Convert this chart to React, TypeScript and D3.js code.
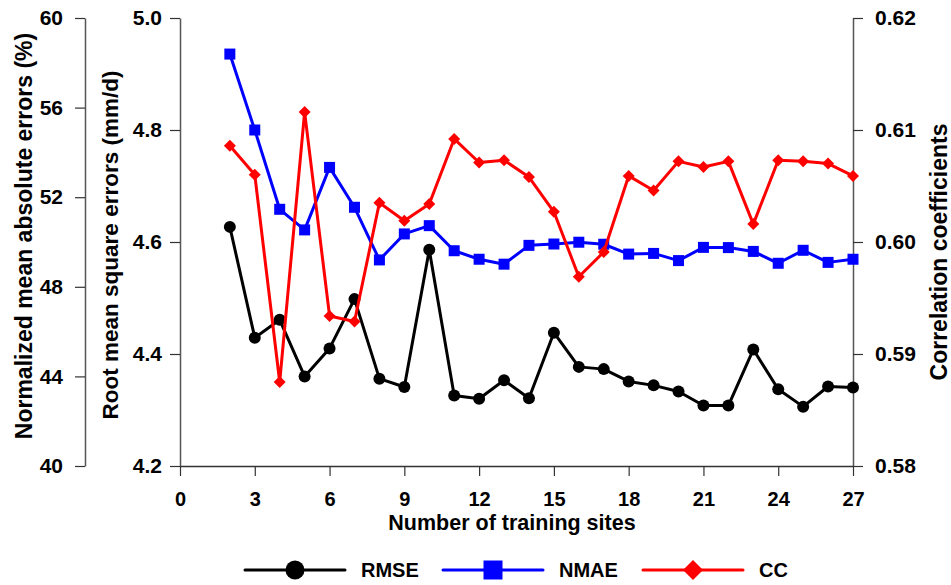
import { useEffect, useRef } from 'react';
import * as d3 from 'd3';

// training sites
const sites = [2, 3, 4, 5, 6, 7, 8, 9, 10, 11, 12, 13, 14, 15, 16, 17, 18, 19, 20, 21, 22, 23, 24, 25, 26, 27];

// RMSE (mm/d)
const rmse = [4.627, 4.429, 4.461, 4.360, 4.410, 4.498, 4.356, 4.341, 4.586, 4.326, 4.320, 4.353, 4.321, 4.438, 4.377, 4.373, 4.351, 4.344, 4.333, 4.308, 4.308, 4.408, 4.337, 4.306, 4.342, 4.340];

// NMAE (%)
const nmae = [58.39, 55.0, 51.46, 50.54, 53.33, 51.55, 49.20, 50.36, 50.73, 49.61, 49.23, 49.01, 49.85, 49.91, 49.99, 49.90, 49.46, 49.49, 49.17, 49.76, 49.75, 49.58, 49.05, 49.63, 49.09, 49.23];

// CC
const cc = [0.6086, 0.6060, 0.5875, 0.6116, 0.5934, 0.5929, 0.6035, 0.6019, 0.6034, 0.6092, 0.6071, 0.6073, 0.6058, 0.6027, 0.5969, 0.5991, 0.6059, 0.6046, 0.6072, 0.6067, 0.6072, 0.6016, 0.6073, 0.6072, 0.6070, 0.6059];

const xTicks = [0, 3, 6, 9, 12, 15, 18, 21, 24, 27];
const nmaeTicks = [40, 44, 48, 52, 56, 60];
const rmseTicks = [4.2, 4.4, 4.6, 4.8, 5.0];
const ccTicks = [0.58, 0.59, 0.60, 0.61, 0.62];

const legendItems = [
  { name: 'RMSE', color: '#000000', marker: 'circle' },
  { name: 'NMAE', color: '#0000ff', marker: 'square' },
  { name: 'CC', color: '#ff0000', marker: 'diamond' },
];

const FONT = '"Liberation Sans", Arial, sans-serif';
const AXIS = '#555';

export default function App() {
  const svgRef = useRef<SVGSVGElement>(null);

  useEffect(() => {
    const width = 951;
    const height = 585;
    const left = 180, right = 853, top = 18, bottom = 466;

    const svg = d3.select(svgRef.current);
    svg.selectAll('*').remove();
    svg.attr('width', width).attr('height', height);

    const x = d3.scaleLinear().domain([0, 27]).range([left, right]);
    const yR = d3.scaleLinear().domain([4.2, 5.0]).range([bottom, top]);
    const yN = d3.scaleLinear().domain([40, 60]).range([bottom, top]);
    const yC = d3.scaleLinear().domain([0.58, 0.62]).range([bottom, top]);

    const styleAxis = (g: any, size: number) => {
      g.select('.domain').attr('stroke', AXIS).attr('stroke-width', 1.5);
      g.selectAll('.tick line').attr('stroke', '#333').attr('stroke-width', 1.2);
      g.selectAll('.tick text')
        .attr('fill', '#000')
        .attr('font-size', size)
        .attr('font-weight', 'bold')
        .attr('font-family', FONT);
    };

    // NMAE axis (outer left)
    const gN = svg.append('g').attr('transform', 'translate(85,0)')
      .call(d3.axisLeft(yN).tickValues(nmaeTicks).tickSize(10).tickSizeOuter(0).tickPadding(12).tickFormat(d3.format('d')));
    styleAxis(gN, 21);

    // RMSE axis (inner left)
    const gR = svg.append('g').attr('transform', `translate(${left},0)`)
      .call(d3.axisLeft(yR).tickValues(rmseTicks).tickSize(10).tickSizeOuter(0).tickPadding(8).tickFormat(d3.format('.1f')));
    styleAxis(gR, 21);

    // CC axis (right)
    const gC = svg.append('g').attr('transform', `translate(${right},0)`)
      .call(d3.axisRight(yC).tickValues(ccTicks).tickSize(10).tickSizeOuter(0).tickPadding(12).tickFormat(d3.format('.2f')));
    styleAxis(gC, 21);

    // x axis
    const gX = svg.append('g').attr('transform', `translate(0,${bottom})`)
      .call(d3.axisBottom(x).tickValues(xTicks).tickSize(10).tickSizeOuter(0).tickPadding(16));
    styleAxis(gX, 20);
    gX.select('.domain').attr('stroke', '#333');

    // axis titles
    svg.append('text')
      .attr('transform', 'translate(32,236) rotate(-90)')
      .attr('text-anchor', 'middle')
      .attr('font-family', FONT).attr('font-weight', 'bold').attr('font-size', 23)
      .text('Normalized mean absolute errors (%)');
    svg.append('text')
      .attr('transform', 'translate(118,245) rotate(-90)')
      .attr('text-anchor', 'middle')
      .attr('font-family', FONT).attr('font-weight', 'bold').attr('font-size', 22.5)
      .text('Root mean square errors (mm/d)');
    svg.append('text')
      .attr('transform', 'translate(947,252) rotate(-90)')
      .attr('text-anchor', 'middle')
      .attr('font-family', FONT).attr('font-weight', 'bold').attr('font-size', 23)
      .text('Correlation coefficients');
    svg.append('text')
      .attr('x', 512).attr('y', 530)
      .attr('text-anchor', 'middle')
      .attr('font-family', FONT).attr('font-weight', 'bold').attr('font-size', 21.5)
      .text('Number of training sites');

    const drawMarker = (g: any, kind: string, color: string, s: number) => {
      if (kind === 'circle') {
        g.append('circle').attr('r', s).attr('fill', color);
      } else if (kind === 'square') {
        g.append('rect').attr('x', -s).attr('y', -s).attr('width', 2 * s).attr('height', 2 * s).attr('fill', color);
      } else {
        g.append('path').attr('d', `M0,${-s}L${s},0L0,${s}L${-s},0Z`).attr('fill', color);
      }
    };

    const series = [
      { values: rmse, y: yR, color: '#000000', marker: 'circle', size: 6, lw: 3 },
      { values: nmae, y: yN, color: '#0000ff', marker: 'square', size: 5.5, lw: 3 },
      { values: cc, y: yC, color: '#ff0000', marker: 'diamond', size: 6, lw: 3 },
    ];

    series.forEach(s => {
      const line = d3.line<number>()
        .x((_, i) => x(sites[i]))
        .y(d => s.y(d));
      svg.append('path')
        .attr('d', line(s.values))
        .attr('fill', 'none')
        .attr('stroke', s.color)
        .attr('stroke-width', s.lw)
        .attr('stroke-linejoin', 'round');
      s.values.forEach((v, i) => {
        const g = svg.append('g').attr('transform', `translate(${x(sites[i])},${s.y(v)})`);
        drawMarker(g, s.marker, s.color, s.size);
      });
    });

    // legend
    const legendX = [245, 443, 643];
    const legendY = 570;
    legendItems.forEach((item, i) => {
      const x0 = legendX[i];
      svg.append('line')
        .attr('x1', x0).attr('x2', x0 + 100)
        .attr('y1', legendY).attr('y2', legendY)
        .attr('stroke', item.color).attr('stroke-width', 3).attr('stroke-linecap', 'round');
      const g = svg.append('g').attr('transform', `translate(${x0 + 50},${legendY})`);
      drawMarker(g, item.marker, item.color, item.marker === 'diamond' ? 10 : 9.5);
      svg.append('text')
        .attr('x', x0 + 116).attr('y', legendY + 7)
        .attr('font-family', FONT).attr('font-weight', 'bold').attr('font-size', 20)
        .text(item.name);
    });
  }, []);

  return <svg ref={svgRef} style={{ position: 'absolute', left: 0, top: 0 }}></svg>;
}
